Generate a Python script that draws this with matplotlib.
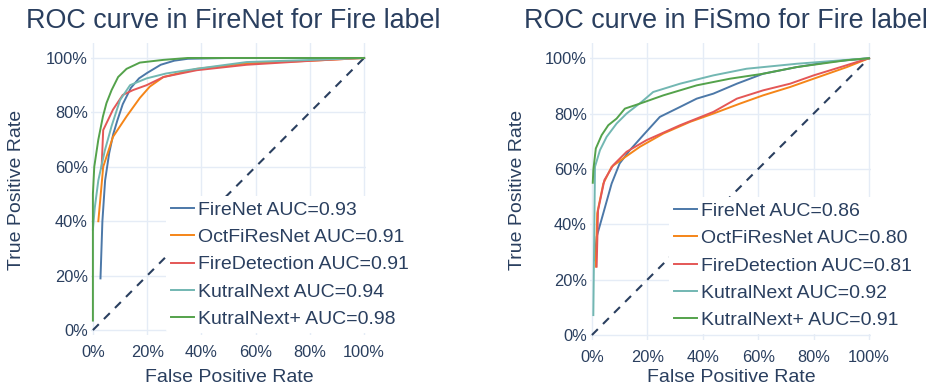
import numpy as np
import matplotlib
matplotlib.use("Agg")
import matplotlib.pyplot as plt
from matplotlib.ticker import PercentFormatter

plt.rcParams['font.family'] = ['Liberation Sans', 'DejaVu Sans']

INK = '#2a3f5f'
GRID = '#e5ecf6'

models = ["FireNet", "OctFiResNet", "FireDetection", "KutralNext", "KutralNext+"]
colors = ['#4c78a8', '#f58518', '#e45756', '#72b7b2', '#54a24b']

# FireNet dataset
firenet_auc = [0.93, 0.91, 0.91, 0.94, 0.98]
firenet_fpr = [
    [0.028, 0.035, 0.045, 0.06, 0.075, 0.09, 0.11, 0.14, 0.17, 0.2, 0.25, 0.3, 0.35, 0.5, 1.0],
    [0.02, 0.038, 0.074, 0.124, 0.173, 0.21, 0.26, 0.383, 0.567, 0.81, 1.0],
    [0.032, 0.038, 0.074, 0.11, 0.148, 0.198, 0.26, 0.383, 0.567, 0.81, 1.0],
    [0.0, 0.007, 0.02, 0.044, 0.069, 0.10, 0.137, 0.198, 0.27, 0.38, 0.567, 0.81, 1.0],
    [0.0, 0.0, 0.005, 0.02, 0.037, 0.05, 0.069, 0.093, 0.124, 0.173, 0.26, 0.35, 1.0],
]
firenet_tpr = [
    [0.19, 0.40, 0.55, 0.65, 0.72, 0.77, 0.83, 0.89, 0.925, 0.945, 0.975, 0.99, 0.997, 1.0, 1.0],
    [0.40, 0.60, 0.71, 0.785, 0.853, 0.895, 0.93, 0.96, 0.98, 0.99, 1.0],
    [0.595, 0.735, 0.81, 0.864, 0.882, 0.90, 0.93, 0.955, 0.975, 0.99, 1.0],
    [0.37, 0.45, 0.55, 0.66, 0.75, 0.845, 0.90, 0.925, 0.943, 0.96, 0.985, 0.993, 1.0],
    [0.035, 0.50, 0.60, 0.70, 0.785, 0.834, 0.882, 0.93, 0.96, 0.983, 0.993, 1.0, 1.0],
]

# FiSmo dataset
fismo_auc = [0.86, 0.80, 0.81, 0.92, 0.91]
fismo_fpr = [
    [0.01, 0.017, 0.041, 0.071, 0.10, 0.137, 0.185, 0.245, 0.318, 0.378, 0.438, 0.523, 0.618, 0.739, 0.86, 1.0],
    [0.014, 0.019, 0.041, 0.071, 0.113, 0.173, 0.258, 0.354, 0.438, 0.534, 0.618, 0.715, 0.80, 0.92, 1.0],
    [0.017, 0.022, 0.045, 0.077, 0.125, 0.197, 0.318, 0.438, 0.523, 0.618, 0.715, 0.80, 0.92, 1.0],
    [0.005, 0.011, 0.029, 0.053, 0.089, 0.125, 0.179, 0.221, 0.318, 0.438, 0.558, 0.739, 0.92, 1.0],
    [0.003, 0.005, 0.014, 0.035, 0.059, 0.089, 0.119, 0.173, 0.258, 0.378, 0.498, 0.618, 0.739, 0.92, 1.0],
]
fismo_tpr = [
    [0.27, 0.355, 0.44, 0.547, 0.62, 0.668, 0.722, 0.788, 0.824, 0.854, 0.872, 0.908, 0.944, 0.968, 0.987, 1.0],
    [0.247, 0.44, 0.547, 0.608, 0.638, 0.68, 0.728, 0.77, 0.80, 0.836, 0.866, 0.896, 0.926, 0.968, 1.0],
    [0.247, 0.45, 0.56, 0.614, 0.662, 0.704, 0.758, 0.806, 0.854, 0.884, 0.908, 0.938, 0.975, 1.0],
    [0.072, 0.608, 0.668, 0.716, 0.764, 0.80, 0.842, 0.878, 0.908, 0.938, 0.962, 0.98, 0.994, 1.0],
    [0.55, 0.596, 0.674, 0.722, 0.758, 0.782, 0.818, 0.836, 0.866, 0.902, 0.926, 0.944, 0.968, 0.993, 1.0],
]

W, H = 942, 388
fig = plt.figure(figsize=(W / 100, H / 100), dpi=100)


def px_axes(x0, y0, x1, y1):
    return fig.add_axes([x0 / W, 1 - y1 / H, (x1 - x0) / W, (y1 - y0) / H])


def draw_roc(ax, fprs, tprs, aucs, legend_xy):
    for spine in ax.spines.values():
        spine.set_visible(False)
    ax.grid(True, color=GRID, linewidth=1)
    ax.set_axisbelow(True)
    ax.plot([0, 1], [0, 1], color=INK, linewidth=1.5, dashes=(4, 3.5))
    for name, c, f, t, a in zip(models, colors, fprs, tprs, aucs):
        ax.plot(f, t, color=c, linewidth=1.4, label=f"{name} AUC={a:.2f}")
    ax.set_xlim(-0.007, 1.007)
    ax.set_ylim(-0.018, 1.055)
    ax.set_xticks(np.arange(0, 1.01, 0.2))
    ax.set_yticks(np.arange(0, 1.01, 0.2))
    ax.xaxis.set_major_formatter(PercentFormatter(1.0, decimals=0))
    ax.yaxis.set_major_formatter(PercentFormatter(1.0, decimals=0))
    ax.tick_params(length=0, labelsize=11.8, labelcolor=INK)
    ax.tick_params(axis='x', pad=7)
    ax.tick_params(axis='y', pad=2.2)
    leg = ax.legend(loc='lower left', bbox_to_anchor=legend_xy, fontsize=14,
                    frameon=True, facecolor='white', edgecolor='none', framealpha=1,
                    handlelength=1.19, handletextpad=0.2, labelspacing=0.5,
                    borderpad=0.25, borderaxespad=0)
    for txt in leg.get_texts():
        txt.set_color(INK)


ax1 = px_axes(91, 43, 366, 335)
draw_roc(ax1, firenet_fpr, firenet_tpr, firenet_auc, (0.273, 0.007))
ax2 = px_axes(590, 43, 871, 340)
draw_roc(ax2, fismo_fpr, fismo_tpr, fismo_auc, (0.281, 0.02))

fig.text(233 / W, 1 - 21 / H, "ROC curve in FireNet for Fire label", ha='center', va='center',
         fontsize=19.4, color=INK)
fig.text(726 / W, 1 - 21 / H, "ROC curve in FiSmo for Fire label", ha='center', va='center',
         fontsize=19.4, color=INK)
fig.text(229 / W, 1 - 377 / H, "False Positive Rate", ha='center', va='center', fontsize=14, color=INK)
fig.text(731 / W, 1 - 378 / H, "False Positive Rate", ha='center', va='center', fontsize=14, color=INK)
fig.text(17 / W, 1 - 190 / H, "True Positive Rate", ha='center', va='center', rotation=90,
         fontsize=14, color=INK)
fig.text(518 / W, 1 - 190 / H, "True Positive Rate", ha='center', va='center', rotation=90,
         fontsize=14, color=INK)

fig.savefig("out.png", dpi=100, facecolor='white')
